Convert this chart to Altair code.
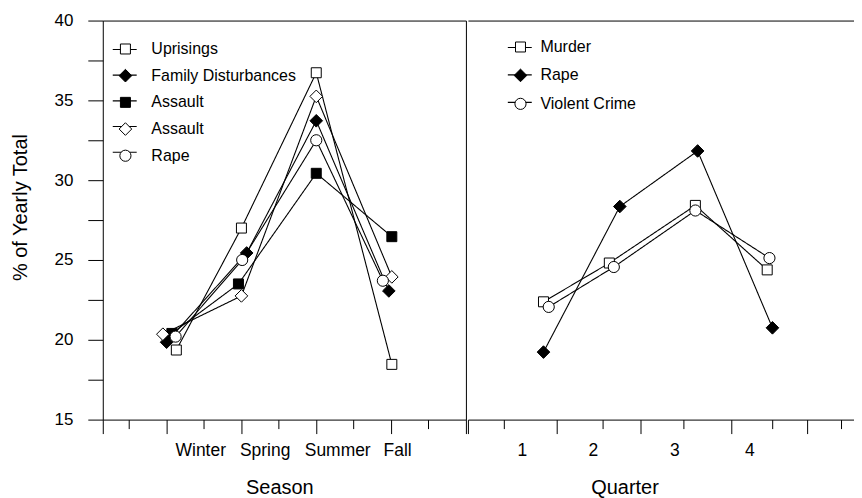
import altair as alt
import pandas as pd

# ---------------- data ----------------
# Left panel: seasonal distribution
season_keys = ["s1", "s2", "s3", "s4", "s5"]
season_names = ["Uprisings", "Family Disturbances", "Assault", "Assault", "Rape"]
season_shapes = ["square", "diamond", "square", "diamond", "circle"]
season_fills = ["white", "black", "black", "white", "white"]
season_x = [
    [1.13, 2.00, 3.00, 4.01],   # Uprisings
    [1.00, 2.07, 3.00, 3.97],   # Family Disturbances
    [1.07, 1.96, 3.00, 4.01],   # Assault (filled square)
    [0.95, 2.00, 3.00, 4.01],   # Assault (open diamond)
    [1.12, 2.01, 3.00, 3.89],   # Rape
]
season_y = [
    [19.36, 27.00, 36.73, 18.46],
    [19.85, 25.44, 33.72, 23.06],
    [20.40, 23.50, 30.43, 26.46],
    [20.35, 22.75, 35.25, 23.94],
    [20.20, 25.00, 32.50, 23.70],
]
season_label_pos = [1.45, 2.31, 3.28, 4.08]
season_labels = ["Winter", "Spring", "Summer", "Fall"]
season_major = [0.147, 1, 2, 3, 4, 5]
season_minor = [0.5, 1.5, 2.5, 3.5, 4.5]

# Right panel: quarterly distribution
quarter_keys = ["q1", "q2", "q3"]
quarter_names = ["Murder", "Rape", "Violent Crime"]
quarter_shapes = ["square", "diamond", "circle"]
quarter_fills = ["white", "black", "white"]
quarter_x = [
    [1.01, 1.89, 3.04, 4.00],   # Murder
    [1.01, 2.03, 3.07, 4.07],   # Rape
    [1.08, 1.95, 3.04, 4.03],   # Violent Crime
]
quarter_y = [
    [22.38, 24.81, 28.42, 24.38],
    [19.23, 28.35, 31.83, 20.75],
    [22.06, 24.56, 28.10, 25.12],
]
quarter_label_pos = [0.72, 1.67, 2.76, 3.76]
quarter_labels = ["1", "2", "3", "4"]
quarter_major = [0, 1.19, 2.31, 3.52, 4.53]
quarter_minor = [0.48, 1.80, 2.88, 4.07, 4.99]

y_ticks = [15, 17.5, 20, 22.5, 25, 27.5, 30, 32.5, 35, 37.5, 40]

SIZES = {"square": 100, "diamond": 160, "circle": 125}
FONT = "Liberation Sans"


def to_df(keys, xs, ys):
    rows = []
    for k, xv, yv in zip(keys, xs, ys):
        for i, (a, b) in enumerate(zip(xv, yv)):
            rows.append({"key": k, "lkey": k + "_line", "idx": i, "x": a, "y": b})
    return pd.DataFrame(rows)


def map_expr(src, vals, labels, quote_vals=False):
    parts = []
    for v, l in zip(vals, labels):
        vv = f"'{v}'" if quote_vals else f"{v}"
        parts.append(f"{src} == {vv} ? '{l}' : ")
    return "".join(parts) + "''"


def panel(df, keys, names, shapes, fills, xdomain, width, major, minor,
          label_pos, labels, title, title_x, left, lx, ly, loff, rpad_m, rpad_l):
    xs = alt.Scale(domain=xdomain, nice=False, zero=False)
    ys = alt.Scale(domain=[15, 40], nice=False, zero=False)
    base = alt.Chart(df)
    n = len(keys)

    yaxis_main = alt.Axis(
        orient="left", values=y_ticks, tickSize=15, labelPadding=15,
        labelExpr="datum.value % 5 == 0 ? datum.label : ''",
        labelFontSize=17, title="% of Yearly Total", titleFontSize=20,
        titlePadding=24, titleY=187, grid=False, labelFlush=False,
        labelOverlap=False, domain=True)

    line_legend = alt.Legend(
        orient="none", legendX=lx, legendY=ly, title=None,
        labelExpr="''", symbolType="stroke", symbolSize=576,
        symbolStrokeWidth=1.1, symbolStrokeColor="black",
        rowPadding=rpad_l, padding=0)
    lines = base.mark_line(color="black", strokeWidth=1.1).encode(
        x=alt.X("x:Q", scale=xs, axis=alt.Axis(
            orient="bottom", values=major, tickSize=14, labels=False,
            title=None, grid=False, domain=True)),
        y=alt.Y("y:Q", scale=ys, axis=yaxis_main if left else None),
        strokeDash=alt.StrokeDash("lkey:N", scale=alt.Scale(
            domain=[k + "_line" for k in keys], range=[[1, 0]] * n),
            legend=line_legend),
        order="idx:Q",
    )

    mk_legend = alt.Legend(
        orient="none", legendX=lx + 5.7, legendY=ly + 4.5, title=None,
        labelExpr=map_expr("datum.value", keys, names, quote_vals=True),
        labelFontSize=16, labelFont=FONT, labelColor="black",
        symbolStrokeWidth=1, labelOffset=loff, rowPadding=rpad_m,
        padding=0, symbolOpacity=1)
    points = base.mark_point(filled=True, strokeWidth=1, opacity=1).encode(
        x=alt.X("x:Q", scale=xs, axis=alt.Axis(
            orient="bottom", values=minor, tickSize=9, labels=False,
            title=None, grid=False, domain=False)),
        y=alt.Y("y:Q", scale=ys, axis=None),
        shape=alt.Shape("key:N", scale=alt.Scale(domain=keys, range=shapes),
                        legend=mk_legend),
        fill=alt.Fill("key:N", scale=alt.Scale(domain=keys, range=fills),
                      legend=mk_legend),
        stroke=alt.Stroke("key:N", scale=alt.Scale(domain=keys, range=["black"] * n),
                          legend=mk_legend),
        size=alt.Size("key:N", scale=alt.Scale(type="ordinal", domain=keys,
                                               range=[SIZES[s] for s in shapes]),
                      legend=mk_legend),
    )

    guide = base.transform_filter("false").mark_point().encode(
        x=alt.X("x:Q", scale=xs, axis=alt.Axis(
            orient="bottom", values=label_pos, tickSize=0, ticks=False,
            labelExpr=map_expr("datum.value", label_pos, labels),
            labelFontSize=17.5, labelPadding=22, labelFlush=False,
            labelOverlap=False, title=title, titleFontSize=20,
            titlePadding=19, titleX=title_x, grid=False, domain=False)),
        y=alt.Y("y:Q", scale=ys, axis=alt.Axis(
            orient="right", ticks=False, labels=False, title=None,
            grid=False, domain=True) if left else None),
    )
    top = base.transform_filter("false").mark_point().encode(
        x=alt.X("x:Q", scale=xs, axis=alt.Axis(
            orient="top", ticks=False, labels=False, title=None,
            grid=False, domain=True)),
        y=alt.Y("y:Q", scale=ys, axis=None),
    )
    return (
        alt.layer(lines, points, guide, top)
        .resolve_axis(x="independent", y="independent")
        .properties(width=width, height=400)
    )


left = panel(to_df(season_keys, season_x, season_y), season_keys, season_names,
             season_shapes, season_fills, [0.147, 5.0], 364, season_major,
             season_minor, season_label_pos, season_labels, "Season", 177,
             True, 9, 16, 18, 9.75, 7.75)
right = panel(to_df(quarter_keys, quarter_x, quarter_y), quarter_keys,
              quarter_names, quarter_shapes, quarter_fills, [0, 5.16], 387,
              quarter_major, quarter_minor, quarter_label_pos, quarter_labels,
              "Quarter", 157, False, 39, 14, 12, 11.5, 9.5)

chart = (
    alt.hconcat(left, right, spacing=0)
    .resolve_scale(shape="independent", fill="independent",
                   stroke="independent", size="independent",
                   strokeDash="independent")
    .resolve_legend(shape="independent", fill="independent",
                    stroke="independent", size="independent",
                    strokeDash="independent")
    .properties(padding={"left": 2, "top": 3, "right": 0, "bottom": 0})
    .configure(font=FONT)
    .configure_view(stroke=None)
    .configure_axis(domainColor="black", tickColor="black", labelColor="black",
                    titleColor="black", titleFontWeight="normal", grid=False,
                    domainWidth=1, tickWidth=1, labelFont=FONT, titleFont=FONT)
    .configure_legend(labelFont=FONT, labelColor="black")
)

chart.save("out.html", embed_options={"renderer": "svg", "actions": False})
